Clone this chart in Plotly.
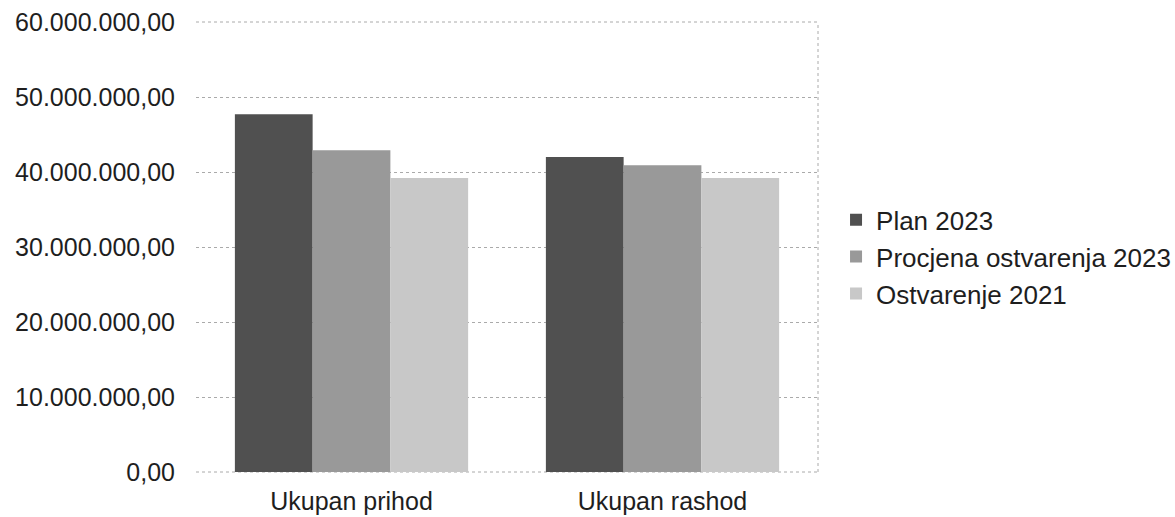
import plotly.graph_objects as go

categories = ["Ukupan prihod", "Ukupan rashod"]
series_names = ["Plan 2023", "Procjena ostvarenja 2023", "Ostvarenje 2021"]
plan_2023 = [47700000, 42000000]
procjena_2023 = [42900000, 40900000]
ostvarenje_2021 = [39200000, 39200000]
tick_values = [0, 10000000, 20000000, 30000000, 40000000, 50000000, 60000000]
tick_labels = ["0,00", "10.000.000,00", "20.000.000,00", "30.000.000,00",
               "40.000.000,00", "50.000.000,00", "60.000.000,00"]

colors = ["#505050", "#999999", "#c8c8c8"]
series_values = [plan_2023, procjena_2023, ostvarenje_2021]

fig = go.Figure()
for i, (name, vals) in enumerate(zip(series_names, series_values)):
    fig.add_trace(go.Bar(
        x=categories, y=vals, name=name,
        marker=dict(color=colors[i], line=dict(width=0)),
        legendgroup=f"g{i}",
    ))

fig.update_layout(
    width=1175, height=517,
    margin=dict(l=196, r=357, t=22, b=45, autoexpand=False),
    paper_bgcolor="white", plot_bgcolor="white",
    barmode="group", bargap=0.25, bargroupgap=0,
    font=dict(family="Liberation Sans, Arial, sans-serif", color="#1e1e1e"),
    legend=dict(
        x=1.029, xanchor="left", y=0.478, yanchor="middle",
        font=dict(size=26, color="#1e1e1e"),
        tracegroupgap=0, itemwidth=30,
        bgcolor="rgba(0,0,0,0)",
    ),
    xaxis=dict(
        showgrid=False, showline=False, ticks="", automargin=False,
        tickfont=dict(size=25, color="#1e1e1e"),
        ticklabelstandoff=12,
    ),
    yaxis=dict(
        range=[0, 60000000], automargin=False,
        tickvals=tick_values, ticktext=tick_labels,
        showgrid=True, gridcolor="#aaaaaa", griddash="dot", gridwidth=1,
        zeroline=False,
        showline=False, ticks="",
        tickfont=dict(size=25, color="#1e1e1e"),
        ticklabelstandoff=20,
    ),
)
fig.add_shape(type="line", xref="paper", yref="paper", x0=1, x1=1, y0=0, y1=1,
              line=dict(color="#aaaaaa", width=1, dash="dot"))
fig.add_shape(type="line", xref="paper", yref="paper", x0=0, x1=1, y0=1, y1=1,
              line=dict(color="#aaaaaa", width=1, dash="dot"))
fig.add_shape(type="line", xref="paper", yref="paper", x0=0, x1=1, y0=0, y1=0,
              line=dict(color="#aaaaaa", width=1, dash="dot"), layer="below")

# remove the browser's default 8px body margin so the figure sits at the window origin
fig.write_html("out.html", config={"displayModeBar": False},
               post_script="document.body.style.margin='0';")
